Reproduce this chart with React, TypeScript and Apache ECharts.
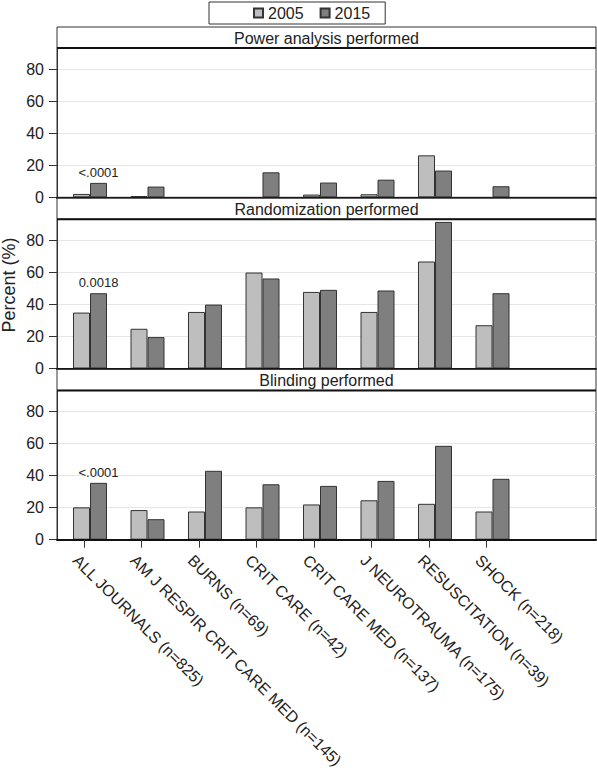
import React, { useEffect, useRef } from "react";
import * as echarts from "echarts";

const CATEGORIES = [
  "ALL JOURNALS (n=825)",
  "AM J RESPIR CRIT CARE MED (n=145)",
  "BURNS (n=69)",
  "CRIT CARE (n=42)",
  "CRIT CARE MED (n=137)",
  "J NEUROTRAUMA (n=175)",
  "RESUSCITATION (n=39)",
  "SHOCK (n=218)",
];
const PANEL_TITLES = ["Power analysis performed", "Randomization performed", "Blinding performed"];
const YEARS = ["2005", "2015"];
const POWER_2005 = [2.1, 0.8, 0, 0, 1.7, 1.9, 26.2, 0];
const POWER_2015 = [9.0, 6.7, 0, 15.6, 9.2, 11.0, 16.7, 6.9];
const RAND_2005 = [34.9, 24.8, 35.3, 59.9, 47.8, 35.3, 66.8, 27.0];
const RAND_2015 = [47.0, 19.6, 39.9, 56.2, 49.1, 48.7, 91.5, 47.0];
const BLIND_2005 = [20.2, 18.5, 17.6, 20.2, 22.0, 24.6, 22.4, 17.6];
const BLIND_2015 = [35.5, 12.8, 43.0, 34.6, 33.6, 36.7, 58.6, 38.0];
const P_VALUES = ["<.0001", "0.0018", "<.0001"];
const Y_TICKS = [0, 20, 40, 60, 80];
const Y_TITLE = "Percent (%)";

const W = 597;
const H = 775;
const FONT = "'Liberation Sans', Arial, sans-serif";
const TEXT = "#222";
const LEFT = 57;
const RIGHT_EDGE = 596;
const PANEL_TOP0 = 27;
const PANEL_STRIDE = 171.2;
const HEADER_H = 21;
const PLOT_H = 149.3;
const Y_MAX = 93.2;
const X_MIN = -0.574;
const X_MAX = 8.8;
const TICK_SHIFT = -0.104;
const LABEL_SHIFT = -0.25;
const COLORS = ["#BEBEBE", "#7F7F7F"];

export default function App() {
  const ref = useRef<HTMLDivElement>(null);
  useEffect(() => {
    if (!ref.current) return;
    const chart = echarts.init(ref.current, null, { renderer: "svg" });
    const panelData = [
      [POWER_2005, POWER_2015],
      [RAND_2005, RAND_2015],
      [BLIND_2005, BLIND_2015],
    ];
    const grids: any[] = [];
    const xAxes: any[] = [];
    const yAxes: any[] = [];
    const series: any[] = [];
    const graphics: any[] = [];
    const idxTicks = CATEGORIES.map((_, i) => i + TICK_SHIFT);
    const idxLabels = CATEGORIES.map((_, i) => i + LABEL_SHIFT);
    panelData.forEach((pd, p) => {
      const top = PANEL_TOP0 + p * PANEL_STRIDE;
      grids.push({
        left: LEFT,
        top: top + HEADER_H,
        width: RIGHT_EDGE - LEFT,
        height: PLOT_H,
        show: true,
        borderColor: "#333",
        borderWidth: 1,
        backgroundColor: "#fff",
      });
      const isLast = p === panelData.length - 1;
      xAxes.push({
        type: "value",
        gridIndex: p,
        min: X_MIN,
        max: X_MAX,
        z: 5,
        splitLine: { show: false },
        axisLine: { show: true, onZero: false, lineStyle: { color: "#111", width: 2 } },
        axisTick: {
          show: isLast,
          customValues: idxTicks,
          length: 8,
          lineStyle: { color: "#333", width: 1 },
        },
        axisLabel: {
          show: isLast,
          customValues: idxLabels,
          rotate: -45,
          margin: 18,
          fontSize: 16,
          color: TEXT,
          fontFamily: FONT,
          formatter: (v: number) => CATEGORIES[Math.round(v - LABEL_SHIFT)] ?? "",
        },
      });
      yAxes.push({
        type: "value",
        gridIndex: p,
        min: 0,
        max: Y_MAX,
        axisLine: { show: true, onZero: false, lineStyle: { color: "#333", width: 1 } },
        axisTick: { show: true, customValues: Y_TICKS, length: 8, lineStyle: { color: "#333" } },
        axisLabel: {
          customValues: Y_TICKS,
          margin: 13,
          fontSize: 16,
          color: TEXT,
          fontFamily: FONT,
        },
        splitLine: { show: true, lineStyle: { color: "#E6E6E6", width: 1 } },
      });
      pd.forEach((vals, k) => {
        series.push({
          type: "bar",
          name: YEARS[k],
          xAxisIndex: p,
          yAxisIndex: p,
          barWidth: 17,
          barGap: "0%",
          itemStyle: { color: COLORS[k], borderColor: "#333", borderWidth: 1 },
          data: vals.map((v, i) => {
            const item: any = { value: [i, v] };
            if (v === 0) {
              item.itemStyle = { borderWidth: 0, opacity: 0 };
            }
            if (k === 1 && i === 0) {
              item.label = {
                show: true,
                position: "top",
                distance: 4,
                formatter: P_VALUES[p],
                fontSize: 13,
                color: TEXT,
                fontFamily: FONT,
              };
            }
            return item;
          }),
        });
      });
      graphics.push({
        type: "rect",
        z: 10,
        shape: { x: LEFT, y: top, width: RIGHT_EDGE - LEFT, height: HEADER_H },
        style: { fill: "#fff", stroke: "#333", lineWidth: 1 },
      });
      graphics.push({
        type: "line",
        z: 11,
        shape: { x1: LEFT, y1: top + HEADER_H, x2: RIGHT_EDGE, y2: top + HEADER_H },
        style: { stroke: "#111", lineWidth: 2 },
      });
      graphics.push({
        type: "text",
        z: 12,
        x: (LEFT + RIGHT_EDGE) / 2,
        y: top + HEADER_H / 2 + 1,
        style: {
          text: PANEL_TITLES[p],
          align: "center",
          verticalAlign: "middle",
          fontSize: 16,
          fontFamily: FONT,
          fill: TEXT,
        },
      });
    });
    graphics.push({
      type: "text",
      x: 9,
      y: 285,
      rotation: Math.PI / 2,
      style: {
        text: Y_TITLE,
        align: "center",
        verticalAlign: "middle",
        fontSize: 18,
        fontFamily: FONT,
        fill: TEXT,
      },
    });

    chart.setOption({
      animation: false,
      backgroundColor: "#fff",
      textStyle: { fontFamily: FONT },
      legend: {
        data: YEARS,
        left: 209,
        top: 2,
        padding: [3, 15, 3, 44],
        itemWidth: 9,
        itemHeight: 9,
        itemGap: 16,
        borderColor: "#333",
        borderWidth: 1,
        icon: "rect",
        textStyle: { fontSize: 16, color: TEXT, fontFamily: FONT, lineHeight: 16 },
      },
      grid: grids,
      xAxis: xAxes,
      yAxis: yAxes,
      series,
      graphic: graphics,
    });
    return () => chart.dispose();
  }, []);
  return (
    <div
      ref={ref}
      style={{ position: "fixed", left: 0, top: 0, width: W, height: H, background: "#fff" }}
    />
  );
}
